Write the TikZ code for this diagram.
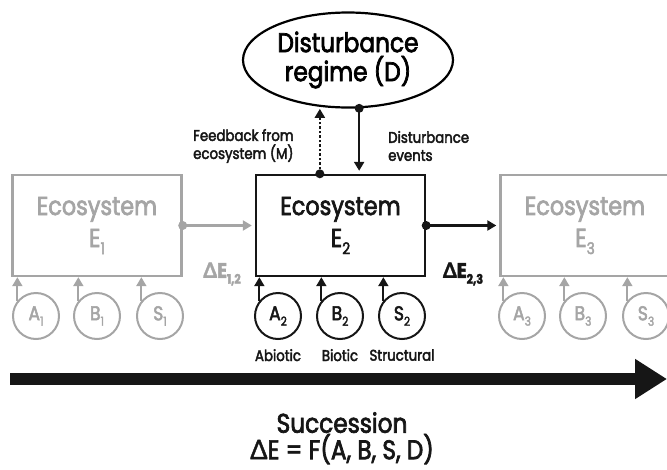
\documentclass[tikz,border=0pt]{standalone}
\usepackage{fontspec}
\setmainfont{Poppins}[FakeStretch=0.86,FakeBold=2.6]
\newfontfamily\grkfont{Lato}[FakeStretch=0.95,FakeBold=1.5]
\usetikzlibrary{arrows.meta,shapes.geometric,positioning}
\definecolor{faded}{RGB}{165,165,165}
\definecolor{ink}{RGB}{22,22,22}
\newcommand{\lowsub}[1]{\raisebox{-0.5ex}{\scalebox{0.62}{#1}}}
\newcommand{\dE}{{\grkfont Δ}E}

\begin{document}
\begin{tikzpicture}[x=1pt,y=-1pt,
  eco/.style={draw,rectangle,line width=2.4pt,minimum width=169pt,minimum height=101pt,inner sep=0pt,align=center,font=\fontsize{26}{32}\selectfont},
  factor/.style={draw,circle,line width=2pt,minimum size=46pt,inner sep=0pt,font=\fontsize{20}{20}\selectfont},
  note/.style={align=left,inner sep=0pt,font=\fontsize{15.5}{18}\selectfont},
  delta/.style={inner sep=0pt,font=\bfseries\fontsize{21}{21}\selectfont},
  tip/.style={-{Triangle[length=9pt,width=10pt]}},
  link/.style={tip,line width=2.2pt,shorten >=3pt}]
\useasboundingbox (0,0) rectangle (667,469);

% disturbance regime
\node[draw,ellipse,line width=2.2pt,minimum width=210pt,minimum height=95pt,inner sep=0pt,align=center,font=\fontsize{27}{29}\selectfont] (regime) at (348,60) {Disturbance\\regime (D)};

% ecosystems
\node[eco,faded] (eco1) at (97,225.5) {Ecosystem\\E\lowsub{1}};
\node[eco,ink] (eco2) at (340.5,225.5) {Ecosystem\\E\lowsub{2}};
\node[eco,faded] (eco3) at (585,225.5) {Ecosystem\\E\lowsub{3}};

% feedback and disturbance events
\draw[tip,ink,line width=2.4pt,dash pattern=on 2.5pt off 2pt,shorten >=2pt] (regime.-121 |- eco2.north) -- (regime.-121);
\fill[ink] (regime.-121 |- eco2.north) circle (4.5pt);
\draw[link,ink] (regime.-77) -- (regime.-77 |- eco2.north);
\fill[ink] (regime.-77) circle (4.5pt);
\node[note,anchor=west,ink] (fbtext) at (193,146) {Feedback from\\ecosystem (M)};
\node[note,anchor=west,ink] (evtext) at (388,146) {Disturbance\\events};

% changes between ecosystems
\draw[link,faded] (eco1.east) -- (eco2.west);
\fill[faded] (eco1.east) circle (4.5pt);
\draw[link,ink] (eco2.east) -- (eco3.west);
\fill[ink] (eco2.east) circle (4.5pt);
\node[delta,faded] (d12) at (222,274) {\dE\lowsub{1,2}};
\node[delta,ink] (d23) at (463,274) {\dE\lowsub{2,3}};

% abiotic, biotic, structural factors
\node[factor,faded] (a1) at (36,316) {A\lowsub{1}};
\node[factor,faded] (b1) at (97,316) {B\lowsub{1}};
\node[factor,faded] (s1) at (160,316) {S\lowsub{1}};
\node[factor,ink] (a2) at (278,316) {A\lowsub{2}};
\node[factor,ink] (b2) at (340,316) {B\lowsub{2}};
\node[factor,ink] (s2) at (402,316) {S\lowsub{2}};
\node[factor,faded] (a3) at (522,316) {A\lowsub{3}};
\node[factor,faded] (b3) at (583,316) {B\lowsub{3}};
\node[factor,faded] (s3) at (646,316) {S\lowsub{3}};

\draw[tip,faded,line width=2pt] (a1.141) -- (a1.141 |- eco1.south);
\draw[tip,faded,line width=2pt] (b1.141) -- (b1.141 |- eco1.south);
\draw[tip,faded,line width=2pt] (s1.141) -- (s1.141 |- eco1.south);
\draw[tip,ink,line width=2pt] (a2.141) -- (a2.141 |- eco2.south);
\draw[tip,ink,line width=2pt] (b2.141) -- (b2.141 |- eco2.south);
\draw[tip,ink,line width=2pt] (s2.141) -- (s2.141 |- eco2.south);
\draw[tip,faded,line width=2pt] (a3.141) -- (a3.141 |- eco3.south);
\draw[tip,faded,line width=2pt] (b3.141) -- (b3.141 |- eco3.south);
\draw[tip,faded,line width=2pt] (s3.141) -- (s3.141 |- eco3.south);

\node[note,ink,below=9pt of a2] (abiotic) {Abiotic};
\node[note,ink,below=9pt of b2] (biotic) {Biotic};
\node[note,ink,below=9pt of s2] (structural) {Structural};

% succession axis
\coordinate (axstart) at (10,379);
\coordinate (axend) at (667,379);
\draw[ink,line width=12pt,-{Triangle[length=32pt,width=38pt]}] (axstart) -- (axend);
\node[ink,align=center,anchor=north,inner sep=0pt,font=\fontsize{27}{25}\selectfont] (succ) at (342,412) {Succession\\\dE{} = F(A, B, S, D)};
\end{tikzpicture}
\end{document}
